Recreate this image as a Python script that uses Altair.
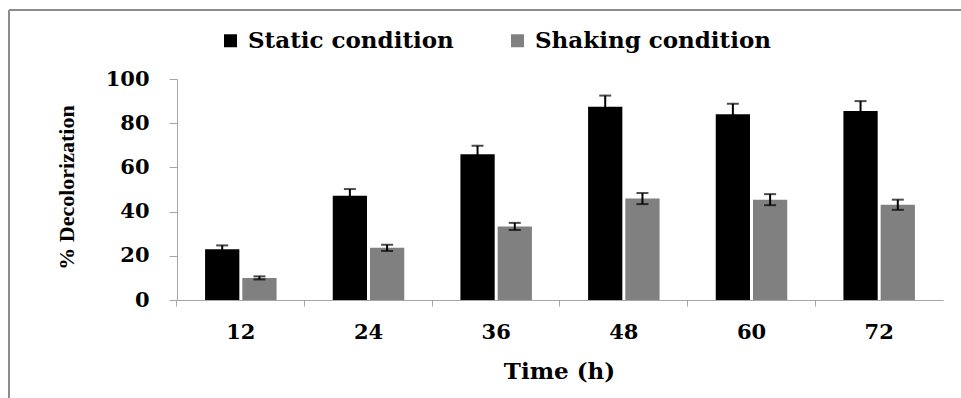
import altair as alt
import pandas as pd

times = ["12", "24", "36", "48", "60", "72"]
conditions = ["Static condition", "Shaking condition"]
static_vals = [23.0, 47.2, 66.0, 87.5, 84.0, 85.5]
static_err = [1.7, 3.0, 3.8, 5.0, 4.8, 4.5]
shaking_vals = [10.0, 23.6, 33.3, 45.9, 45.4, 43.1]
shaking_err = [0.7, 1.4, 1.6, 2.5, 2.5, 2.3]
colors = ["#000000", "#808080"]

rows = []
for i, t in enumerate(times):
    rows.append({"time": t, "cond": conditions[0], "val": static_vals[i], "err": static_err[i]})
    rows.append({"time": t, "cond": conditions[1], "val": shaking_vals[i], "err": shaking_err[i]})
df = pd.DataFrame(rows)
df["lo"] = df["val"] - df["err"]
df["hi"] = df["val"] + df["err"]

FONT = "DejaVu Serif"
TITLE_FONT_Y = "Liberation Serif"
AXIS_COLOR = "#a6a6a6"

x_axis = alt.Axis(
    title="Time (h)", labelAngle=0, bandPosition=-0.393,
    domainColor=AXIS_COLOR, tickColor=AXIS_COLOR, tickSize=6, labelPadding=15,
    labelFont=FONT, labelFontSize=21, labelFontWeight="bold", labelColor="black",
    titleFont=FONT, titleFontSize=23, titleFontWeight="bold", titleColor="black",
    titleX=382, titleY=78, titleAlign="center", titleBaseline="alphabetic",
)
y_axis = alt.Axis(
    title="% Decolorization", values=[0, 20, 40, 60, 80, 100], grid=False,
    domainColor=AXIS_COLOR, tickColor=AXIS_COLOR, tickSize=8, labelPadding=20,
    labelFont=FONT, labelFontSize=21, labelFontWeight="bold", labelColor="black",
    titleFont=TITLE_FONT_Y, titleFontSize=22, titleFontWeight="bold", titleColor="black",
    titleX=-104, titleY=108, titleAlign="center", titleBaseline="alphabetic", titleAngle=-90,
)
x_enc = alt.X("time:N", sort=times, scale=alt.Scale(paddingInner=0.44, paddingOuter=0.22), axis=x_axis)
xo_enc = alt.XOffset("cond:N", sort=conditions, scale=alt.Scale(paddingInner=0.08, paddingOuter=0))
y_scale = alt.Scale(domain=[0, 100], nice=False)

base = alt.Chart(df)

bars = base.mark_bar().encode(
    x=x_enc,
    xOffset=xo_enc,
    y=alt.Y("val:Q", scale=y_scale, axis=y_axis),
    color=alt.Color(
        "cond:N", sort=conditions,
        scale=alt.Scale(domain=conditions, range=colors),
        legend=alt.Legend(
            title=None, orient="none", legendX=42, legendY=-50, direction="horizontal",
            columnPadding=52, labelFont=FONT, labelFontSize=23, labelFontWeight="bold",
            labelColor="black", symbolType="square", symbolSize=169, symbolStrokeWidth=0,
            labelOffset=6, labelLimit=400,
        ),
    ),
)

err_rule = base.mark_rule(color="black", strokeWidth=2).encode(
    x=x_enc, xOffset=xo_enc,
    y=alt.Y("lo:Q", scale=y_scale, axis=y_axis),
    y2="hi:Q",
)
cap_hi = base.mark_tick(color="black", thickness=2, size=12).encode(
    x=x_enc, xOffset=xo_enc,
    y=alt.Y("hi:Q", scale=y_scale, axis=y_axis),
)
cap_lo = base.mark_tick(color="black", thickness=2, size=12).encode(
    x=x_enc, xOffset=xo_enc,
    y=alt.Y("lo:Q", scale=y_scale, axis=y_axis),
)

frame_data = alt.Data(values=[{"k": 1}])
frame_left = alt.Chart(frame_data).mark_rule(color="#8c8c8c", strokeWidth=2).encode(
    x=alt.value(-168), y=alt.value(-69), y2=alt.value(330)
)
frame_top = alt.Chart(frame_data).mark_rule(color="#8c8c8c", strokeWidth=2).encode(
    x=alt.value(-168), x2=alt.value(800), y=alt.value(-69)
)

chart = alt.layer(frame_left, frame_top, bars, err_rule, cap_hi, cap_lo).properties(
    width=766, height=221,
    autosize=alt.AutoSizeParams(type="none"),
    padding={"left": 177, "top": 79, "right": 18, "bottom": 98},
    background="white",
).configure_view(stroke=None)

chart.save("out.html", embed_options={"renderer": "svg", "actions": False})
